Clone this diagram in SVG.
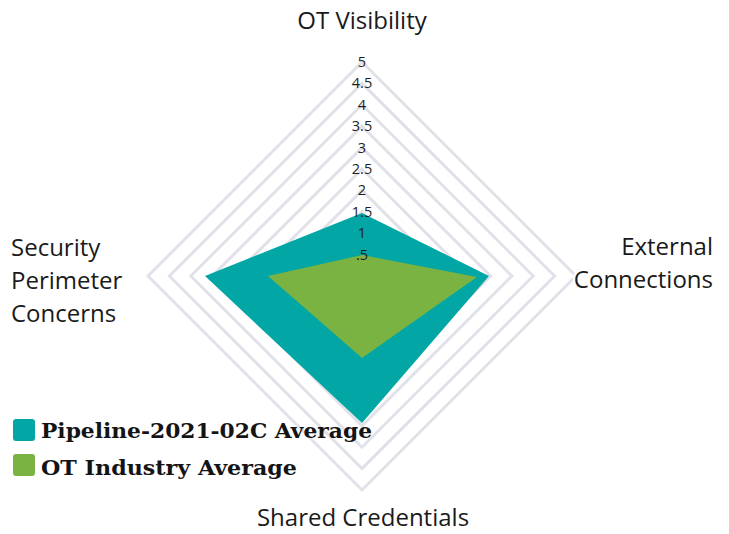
<svg xmlns="http://www.w3.org/2000/svg" width="729" height="534" viewBox="0 0 729 534">
<style>
.ring{fill:none;stroke:#e1e1ea;stroke-width:3;stroke-linejoin:miter}
.tick{font-family:"Open Sans","Noto Sans",sans-serif;font-size:14.5px;fill:#1e1e1e;text-anchor:middle}
.axis{font-family:"Open Sans","Noto Sans",sans-serif;font-size:24px;fill:#1a1a1a;stroke:#ffffff;stroke-width:5px;paint-order:stroke;stroke-linejoin:round}
.leg{font-family:"DejaVu Serif","Liberation Serif",serif;font-weight:bold;font-size:21px;fill:#141414}
</style>
<rect width="729" height="534" fill="#ffffff"/>
<g id="grid">
<polygon class="ring" points="362,254.6 383.4,276 362,297.4 340.6,276"/>
<polygon class="ring" points="362,233.2 404.8,276 362,318.8 319.2,276"/>
<polygon class="ring" points="362,211.8 426.2,276 362,340.2 297.8,276"/>
<polygon class="ring" points="362,190.4 447.6,276 362,361.6 276.4,276"/>
<polygon class="ring" points="362,169 469,276 362,383 255,276"/>
<polygon class="ring" points="362,147.6 490.4,276 362,404.4 233.6,276"/>
<polygon class="ring" points="362,126.2 511.8,276 362,425.8 212.2,276"/>
<polygon class="ring" points="362,104.8 533.2,276 362,447.2 190.8,276"/>
<polygon class="ring" points="362,83.4 554.6,276 362,468.6 169.4,276"/>
<polygon class="ring" points="362,62 576,276 362,490 148,276"/>
</g>
<g id="series-pipeline">
<polygon points="362,213 489,276 362,423 205,276" fill="#01a6a5"/>
</g>
<g id="series-industry">
<polygon points="362,255 477,277 362,358 268,276" fill="#7bb342"/>
</g>
<g id="ticks">
<text class="tick" x="362" y="67">5</text>
<text class="tick" x="362" y="88.4">4.5</text>
<text class="tick" x="362" y="109.8">4</text>
<text class="tick" x="362" y="131.2">3.5</text>
<text class="tick" x="362" y="152.6">3</text>
<text class="tick" x="362" y="174">2.5</text>
<text class="tick" x="362" y="195.4">2</text>
<text class="tick" x="362" y="216.8">1.5</text>
<text class="tick" x="362" y="238.2">1</text>
<text class="tick" x="362" y="259.6">.5</text>
</g>
<g id="axis-ot-visibility"><text class="axis" x="362" y="29" text-anchor="middle">OT Visibility</text></g>
<g id="axis-external-connections"><text class="axis" text-anchor="end"><tspan x="713" y="255">External</tspan><tspan x="713" y="288">Connections</tspan></text></g>
<g id="axis-shared-credentials"><text class="axis" x="363" y="526" text-anchor="middle">Shared Credentials</text></g>
<g id="axis-security-perimeter"><text class="axis"><tspan x="11" y="256">Security</tspan><tspan x="11" y="289">Perimeter</tspan><tspan x="11" y="322">Concerns</tspan></text></g>
<g id="legend">
<rect x="13" y="419" width="22" height="22" rx="3" fill="#01a6a5"/>
<text class="leg" x="41" y="438" textLength="331" lengthAdjust="spacingAndGlyphs">Pipeline-2021-02C Average</text>
<rect x="13" y="454" width="22" height="22" rx="3" fill="#7bb342"/>
<text class="leg" x="41" y="475" textLength="256" lengthAdjust="spacingAndGlyphs">OT Industry Average</text>
</g>
</svg>
